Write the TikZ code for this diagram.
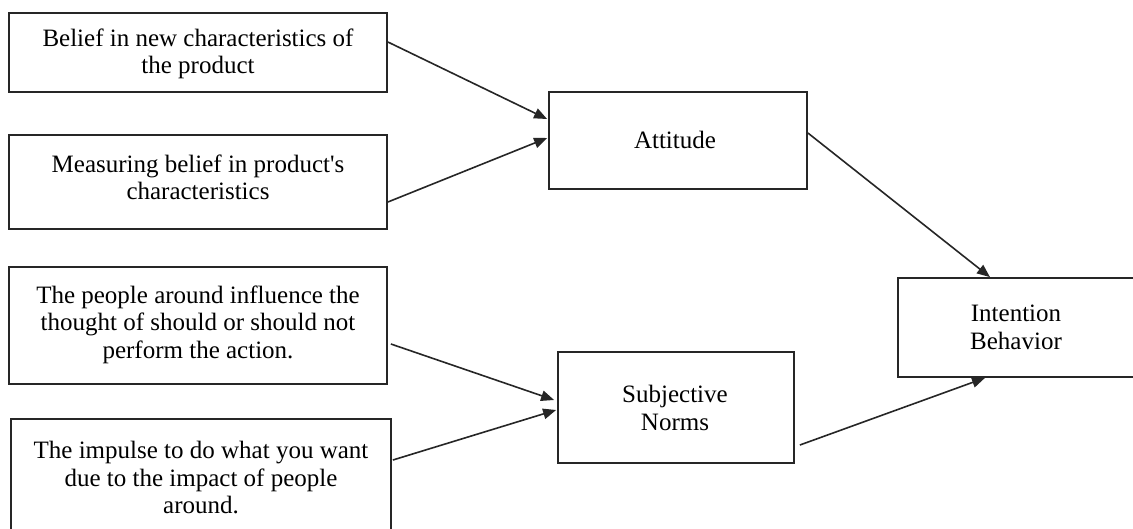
\documentclass[tikz,border=0pt]{standalone}
\usepackage{fontspec}
\setmainfont{Liberation Serif}
\usetikzlibrary{arrows.meta}
\definecolor{ink}{HTML}{262626}
\tikzset{
  box/.style={draw=ink, line width=1.8pt, inner sep=0pt, fill=none},
  lbl/.style={inner sep=0pt, align=center, font=\fontsize{25}{27.5}\selectfont},
  link/.style={draw=ink, line width=1.6pt, -{Triangle[length=13pt,width=10.5pt]}},
}
\begin{document}
\begin{tikzpicture}[x=1pt,y=-1pt]
  \clip (0,0) rectangle (1133,528);
  \fill[white] (0,0) rectangle (1133,528);

  % belief boxes
  \node[box, minimum width=378pt, minimum height=79pt]  (b1) at (198,52.5) {};
  \node[lbl] (t1) at (198,54) {Belief in new characteristics of\\the product};
  \node[box, minimum width=378pt, minimum height=94pt]  (b2) at (198,182) {};
  \node[lbl] (t2) at (198,177.5) {Measuring belief in product\textquotesingle s\\characteristics};

  % normative boxes
  \node[box, minimum width=378pt, minimum height=117pt] (b3) at (198,325.5) {};
  \node[lbl] (t3) at (198,324.5) {The people around influence the\\thought of should or should not\\perform the action.};
  \node[box, minimum width=380pt, minimum height=130pt] (b4) at (201,484) {};
  \node[lbl] (t4) at (201,477.5) {The impulse to do what you want\\due to the impact of people\\around.};

  % middle constructs
  \node[box, minimum width=258pt, minimum height=97pt]  (att) at (678,140.5) {};
  \node[lbl] (tatt) at (675,140) {Attitude};
  \node[box, minimum width=236pt, minimum height=111pt] (sn) at (676,407.5) {};
  \node[lbl] (tsn) at (675,408) {Subjective\\Norms};

  % outcome
  \node[box, minimum width=260pt, minimum height=99pt]  (ib) at (1028,327.5) {};
  \node[lbl] (tib) at (1016,327.5) {Intention\\Behavior};

  % connectors
  \draw[link] ([yshift=10.5pt]b1.east) -- ([xshift=-1pt,yshift=21.5pt]att.west);
  \draw[link] ([yshift=-20pt]b2.east) -- ([xshift=-1pt,yshift=2.5pt]att.west);
  \draw[link] ([xshift=3pt,yshift=-18.5pt]b3.east) -- ([xshift=-3pt,yshift=7.5pt]sn.west);
  \draw[link] ([xshift=1pt,yshift=24pt]b4.east) -- ([xshift=-1pt,yshift=-2.5pt]sn.west);
  \draw[link] ([yshift=7.5pt]att.east) -- ([xshift=-38pt]ib.north);
  \draw[link] ([xshift=5pt,yshift=-37.5pt]sn.east) -- ([xshift=-43pt]ib.south);
\end{tikzpicture}
\end{document}
